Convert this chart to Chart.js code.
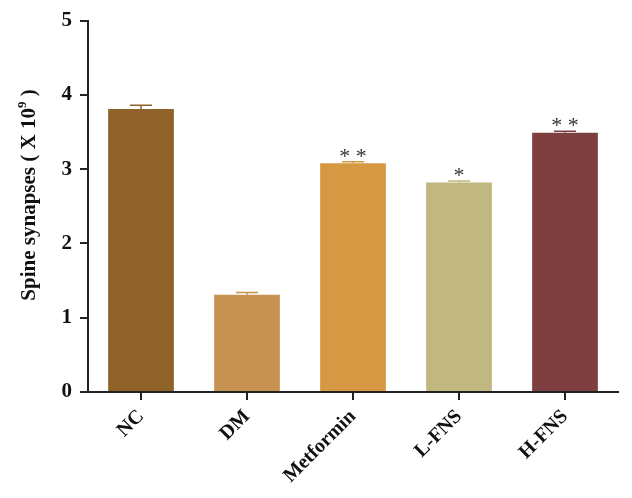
<!DOCTYPE html>
<html>
<head>
<meta charset="utf-8">
<script src="https://cdn.jsdelivr.net/npm/chart.js@4.4.0/dist/chart.umd.min.js"></script>
<style>
  html, body { margin: 0; padding: 0; background: #fff; }
  .chart-container { width: 632px; height: 498px; }
</style>
</head>
<body>
<div class="chart-container"><canvas id="myChart" width="632" height="498"></canvas></div>
<script>
const groups = ["NC", "DM", "Metformin", "L-FNS", "H-FNS"];
const spineValues = [3.81, 1.31, 3.08, 2.82, 3.49];
const spineErrors = [0.05, 0.03, 0.02, 0.02, 0.02];
const stars = ["", "", "* *", "*", "* *"];
const barColors = ["#8E6229", "#C69350", "#D69842", "#C0B880", "#7E3F40"];
const yTicks = [0, 1, 2, 3, 4, 5];

const serif = "'Liberation Serif', 'DejaVu Serif', serif";

// error bars + stars
const errorBars = {
  id: "errorBars",
  afterDatasetsDraw(chart) {
    const ctx = chart.ctx;
    const meta = chart.getDatasetMeta(0);
    const y = chart.scales.y;
    meta.data.forEach((bar, i) => {
      const top = y.getPixelForValue(spineValues[i] + spineErrors[i]);
      const base = y.getPixelForValue(spineValues[i]);
      ctx.save();
      ctx.strokeStyle = barColors[i];
      ctx.lineWidth = 1.5;
      ctx.beginPath();
      ctx.moveTo(bar.x, base);
      ctx.lineTo(bar.x, top);
      ctx.moveTo(bar.x - 11, top);
      ctx.lineTo(bar.x + 11, top);
      ctx.stroke();
      if (stars[i]) {
        ctx.fillStyle = "#333";
        ctx.font = "22px " + serif;
        ctx.textAlign = "center";
        ctx.textBaseline = "alphabetic";
        ctx.fillText(stars[i], bar.x, top + 1);
      }
      ctx.restore();
    });
  },
};

// y title with superscript
const yTitle = {
  id: "yTitle",
  afterDraw(chart) {
    const ctx = chart.ctx;
    ctx.save();
    ctx.translate(35, 195);
    ctx.rotate(-Math.PI / 2);
    ctx.fillStyle = "#111";
    ctx.textBaseline = "alphabetic";
    const main = "Spine synapses ( X 10";
    const sup = "9";
    const end = " )";
    ctx.font = "bold 21px " + serif;
    const w1 = ctx.measureText(main).width;
    const w3 = ctx.measureText(end).width;
    ctx.font = "bold 13px " + serif;
    const w2 = ctx.measureText(sup).width;
    let x = -(w1 + w2 + w3) / 2;
    ctx.font = "bold 21px " + serif;
    ctx.fillText(main, x, 0);
    x += w1;
    ctx.font = "bold 13px " + serif;
    ctx.fillText(sup, x, -9);
    x += w2;
    ctx.font = "bold 21px " + serif;
    ctx.fillText(end, x, 0);
    ctx.restore();
  },
};

const ctx1 = document.getElementById("myChart").getContext("2d");
const spineChart = new Chart(ctx1, {
  type: "bar",
  data: {
    labels: groups,
    datasets: [
      {
        label: "",
        data: spineValues,
        backgroundColor: barColors,
        borderWidth: 0,
        barPercentage: 0.62,
        categoryPercentage: 1,
      },
    ],
  },
  options: {
    responsive: false,
    animation: false,
    layout: { padding: { top: 15, right: 14, left: 0, bottom: 0 } },
    plugins: {
      legend: { display: false },
      tooltip: { enabled: false },
    },
    scales: {
      x: {
        grid: { display: true, offset: false, drawOnChartArea: false, tickLength: 8, color: "#222", lineWidth: 2 },
        border: { display: true, color: "#222", width: 2 },
        ticks: {
          color: "#111",
          font: { family: serif, size: 20, weight: "bold" },
          minRotation: 45,
          maxRotation: 45,
          padding: 5,
        },
        afterFit(scale) {
          scale.height = 106;
        },
      },
      y: {
        min: 0,
        max: 5,
        afterBuildTicks(scale) {
          scale.ticks = yTicks.map((v) => ({ value: v }));
        },
        grid: { display: true, drawOnChartArea: false, tickLength: 8, color: "#222", lineWidth: 2 },
        border: { display: true, color: "#222", width: 2 },
        ticks: {
          color: "#111",
          font: { family: serif, size: 21, weight: "bold" },
          padding: 8,
        },
        afterFit(scale) {
          scale.width = 88;
        },
      },
    },
  },
  plugins: [errorBars, yTitle],
});
</script>
</body>
</html>
